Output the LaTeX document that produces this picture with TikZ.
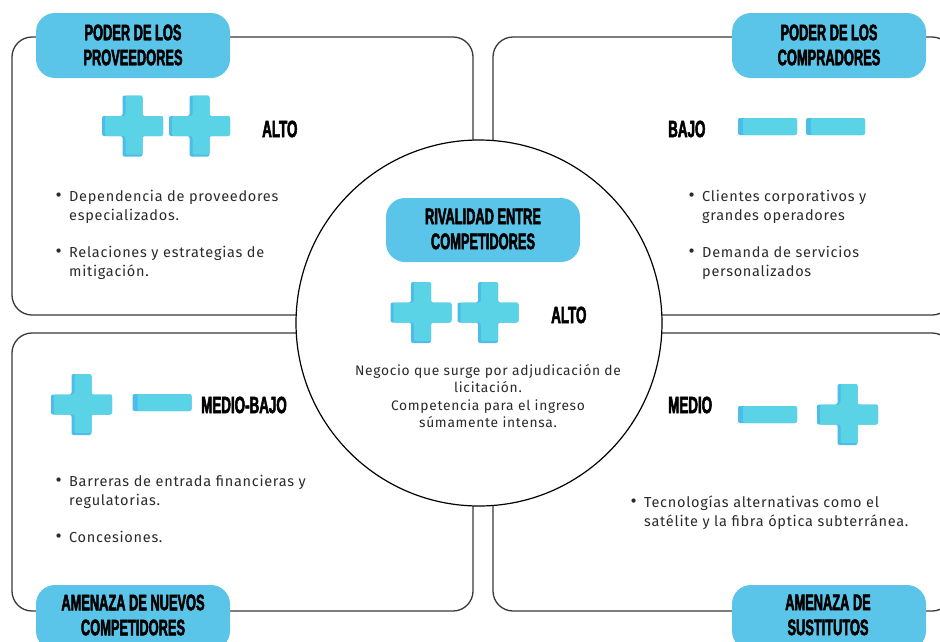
\documentclass[tikz,border=0pt]{standalone}
\usepackage{fontspec}
\setmainfont{Fira Sans}[LetterSpace=5]
\newfontfamily\headfont{Liberation Sans}[FakeStretch=0.57, BoldFeatures={FakeBold=2.2}]
\definecolor{pillblue}{HTML}{5BC5E9}
\definecolor{plusface}{HTML}{5AD3E6}
\definecolor{plusside}{HTML}{4CBDE8}
\definecolor{framegray}{HTML}{3A3A3A}
\definecolor{bodytext}{HTML}{2B2B2B}
% one bullet entry: dot in a fixed-width box, then the text lines
\newcommand{\dotmark}{\makebox[14pt][l]{\hspace{0.5pt}\raisebox{-0.6pt}{\scalebox{1.3}{•}}}}
\newenvironment{entrylines}{\begin{tabular}[t]{@{}l@{}l@{}}}{\end{tabular}}
\tikzset{
  quadbox/.style={draw=framegray, line width=1.3pt, rounded corners=20pt},
  pill/.style={fill=pillblue, rounded corners=19pt},
  headtext/.style={font=\headfont\bfseries\fontsize{22.5}{25}\selectfont, align=center, inner sep=0pt, text=black},
  leveltext/.style={font=\headfont\bfseries\fontsize{23.5}{26}\selectfont, inner sep=0pt, anchor=west, text=black},
  itemtext/.style={font=\fontsize{14.5}{19}\selectfont, inner sep=0pt, anchor=base west, text=bodytext},
  centertext/.style={font=\fontsize{13.8}{17.5}\selectfont, align=center, inner sep=0pt, text=bodytext},
  plusmark/.pic={
    \fill[plusside, rounded corners=2pt] (-10,-30.5) -- (10,-30.5) -- (10,-10) -- (30.5,-10) -- (30.5,10) -- (10,10) -- (10,30.5) -- (-10,30.5) -- (-10,10) -- (-30.5,10) -- (-30.5,-10) -- (-10,-10) -- cycle;
    \fill[plusface, rounded corners=2pt] (-7,-30.5) -- (10,-30.5) -- (10,-10) -- (30.5,-10) -- (30.5,10) -- (10,10) -- (10,28.5) -- (-7,28.5) -- (-7,10) -- (-27.5,10) -- (-27.5,-10) -- (-7,-10) -- cycle;
  },
  minusmark/.pic={
    \fill[plusside, rounded corners=2pt] (-29.5,-8.5) rectangle (29.5,8.5);
    \fill[plusface, rounded corners=2pt] (-24.5,-8.5) rectangle (29.5,8.5);
  }
}
\begin{document}
\begin{tikzpicture}[x=1pt, y=-1pt]
  \useasboundingbox (0,0) rectangle (940,641);
  \clip (0,0) rectangle (940,641);
  \fill[white] (0,0) rectangle (940,641);

  % the four quadrant frames
  \draw[quadbox] (12,37) rectangle (473,315);
  \draw[quadbox] (493,37) rectangle (952,315);
  \draw[quadbox] (12,333) rectangle (473,611);
  \draw[quadbox] (493,333) rectangle (952,611);

  % central circle
  \node[circle, draw=black, line width=1.2pt, fill=white, minimum size=366pt, inner sep=0pt] (rival) at (479,323) {};

  % title pills
  \fill[pill] (36,13) rectangle (230,78);
  \fill[pill] (732,13) rectangle (926,78);
  \fill[pill] (36,585) rectangle (230,650);
  \fill[pill] (732,585) rectangle (926,650);
  \fill[pill] (386,198) rectangle (580,262);

  \node[headtext] (tProv) at (133,45) {PODER DE LOS\\PROVEEDORES};
  \node[headtext] (tComp) at (829,45) {PODER DE LOS\\COMPRADORES};
  \node[headtext] (tNuev) at (133,615) {AMENAZA DE NUEVOS\\COMPETIDORES};
  \node[headtext] (tSust) at (828,615) {AMENAZA DE\\SUSTITUTOS};
  \node[headtext] (tRiv) at (483,229) {RIVALIDAD ENTRE\\COMPETIDORES};

  % level marks
  \pic at (132.5,126) {plusmark};
  \pic at (199.5,126) {plusmark};
  \node[leveltext] (lProv) at (262,129) {ALTO};

  \node[leveltext] (lComp) at (668,129) {BAJO};
  \pic at (767.5,126.5) {minusmark};
  \pic at (835.5,126.5) {minusmark};

  \pic at (421,312.5) {plusmark};
  \pic at (488,312.5) {plusmark};
  \node[leveltext] (lRiv) at (551,315) {ALTO};

  \pic at (81.5,404.5) {plusmark};
  \pic at (162,402.5) {minusmark};
  \node[leveltext] (lNuev) at (201,405) {MEDIO-BAJO};

  \node[leveltext] (lSust) at (668,405) {MEDIO};
  \pic at (767.5,414.5) {minusmark};
  \pic at (847.5,414.5) {plusmark};

  % bullet lists
  \node[itemtext] (i1) at (55,201) {\begin{entrylines}\dotmark & Dependencia de proveedores\\ & especializados.\end{entrylines}};
  \node[itemtext] (i2) at (55,257) {\begin{entrylines}\dotmark & Relaciones y estrategias de\\ & mitigación.\end{entrylines}};

  \node[itemtext] (i3) at (688,201) {\begin{entrylines}\dotmark & Clientes corporativos y\\ & grandes operadores\end{entrylines}};
  \node[itemtext] (i4) at (688,257) {\begin{entrylines}\dotmark & Demanda de servicios\\ & personalizados\end{entrylines}};

  \node[itemtext] (i5) at (55,486) {\begin{entrylines}\dotmark & Barreras de entrada financieras y\\ & regulatorias.\end{entrylines}};
  \node[itemtext] (i6) at (55,542) {\begin{entrylines}\dotmark & Concesiones.\end{entrylines}};

  \node[itemtext] (i7) at (630,507) {\begin{entrylines}\dotmark & Tecnologías alternativas como el\\ & satélite y la fibra óptica subterránea.\end{entrylines}};

  % central description
  \node[centertext] (dRiv) at (488,396) {Negocio que surge por adjudicación de\\licitación.\\Competencia para el ingreso\\súmamente intensa.};
\end{tikzpicture}
\end{document}
